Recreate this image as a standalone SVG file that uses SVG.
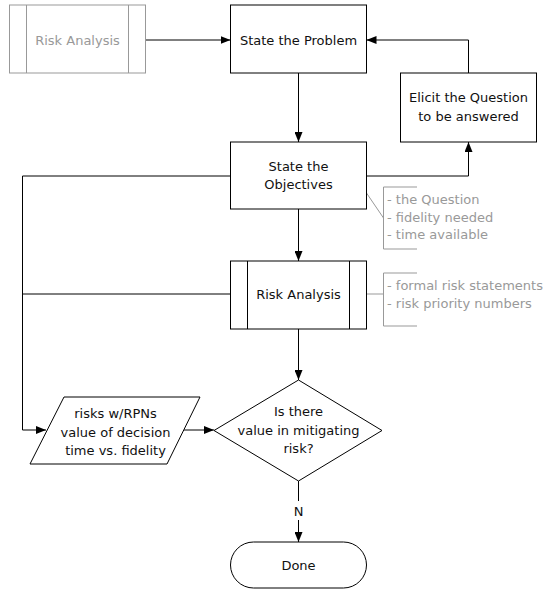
<svg xmlns="http://www.w3.org/2000/svg" width="550" height="592" viewBox="0 0 550 592">
  <style>
    .box { fill: #fff; stroke: #000; stroke-width: 1; }
    .ghost { fill: #fff; stroke: #999; stroke-width: 1; }
    .lbl { font-family: "DejaVu Sans", Verdana, sans-serif; font-size: 13px; fill: #111; text-anchor: middle; }
    .glbl { font-family: "DejaVu Sans", Verdana, sans-serif; font-size: 13px; fill: #999; text-anchor: middle; }
    .note { font-family: "DejaVu Sans", Verdana, sans-serif; font-size: 13px; fill: #999; }
    .wire { fill: none; stroke: #000; stroke-width: 1; }
    .gwire { fill: none; stroke: #999; stroke-width: 1; }
  </style>
  <defs>
    <marker id="arrow" markerUnits="userSpaceOnUse" markerWidth="10" markerHeight="8" refX="10" refY="4" orient="auto">
      <path d="M0,0 L10,4 L0,8 z" fill="#000"/>
    </marker>
  </defs>

  <rect width="550" height="592" fill="#fff"/>

  <!-- connectors -->
  <g id="connectors">
    <path class="wire" d="M145.5,40 H230.5" marker-end="url(#arrow)"/>
    <path class="wire" d="M298.5,73 V142" marker-end="url(#arrow)"/>
    <path class="wire" d="M366.5,176 H468.5 V142" marker-end="url(#arrow)"/>
    <path class="wire" d="M468.5,73 V40 H366.5" marker-end="url(#arrow)"/>
    <path class="wire" d="M298.5,209 V261" marker-end="url(#arrow)"/>
    <path class="wire" d="M230.5,176 H22.5 V430 H46" marker-end="url(#arrow)"/>
    <path class="wire" d="M230.5,294 H22.5"/>
    <path class="wire" d="M298.5,329 V380" marker-end="url(#arrow)"/>
    <path class="wire" d="M184,430 H214" marker-end="url(#arrow)"/>
    <path class="wire" d="M298.5,481 V501"/>
    <path class="wire" d="M298.5,520 V542" marker-end="url(#arrow)"/>
    <text class="lbl" x="298.5" y="515.5">N</text>
    <!-- annotation leaders -->
    <path class="gwire" d="M366.5,193 L383.5,218"/>
    <path class="gwire" d="M366.5,294 H383.5"/>
  </g>

  <!-- predefined process shown as an entry point -->
  <g id="risk-analysis-entry">
    <rect class="ghost" x="9.5" y="5" width="136" height="68"/>
    <path class="gwire" d="M26.5,5 V73 M128.5,5 V73"/>
    <text class="glbl" x="77.5" y="45">Risk Analysis</text>
  </g>

  <g id="state-problem">
    <rect class="box" x="230.5" y="5" width="136" height="68"/>
    <text class="lbl" x="298.5" y="45">State the Problem</text>
  </g>

  <g id="elicit-question">
    <rect class="box" x="400.5" y="73" width="136" height="69"/>
    <text class="lbl" x="468.5" y="102">Elicit the Question</text>
    <text class="lbl" x="468.5" y="120.5">to be answered</text>
  </g>

  <g id="state-objectives">
    <rect class="box" x="230.5" y="142" width="136" height="67"/>
    <text class="lbl" x="298.5" y="170.5">State the</text>
    <text class="lbl" x="298.5" y="189">Objectives</text>
  </g>

  <g id="objectives-note">
    <path class="gwire" d="M417,187 H383.5 V249 H417"/>
    <text class="note" x="387" y="204">- the Question</text>
    <text class="note" x="387" y="221.5">- fidelity needed</text>
    <text class="note" x="387" y="239">- time available</text>
  </g>

  <g id="risk-analysis">
    <rect class="box" x="230.5" y="261" width="136" height="68"/>
    <path class="wire" d="M247.5,261 V329 M349.5,261 V329"/>
    <text class="lbl" x="298.5" y="299">Risk Analysis</text>
  </g>

  <g id="risk-analysis-note">
    <path class="gwire" d="M417,273 H383.5 V326 H417"/>
    <text class="note" x="387" y="290">- formal risk statements</text>
    <text class="note" x="387" y="308">- risk priority numbers</text>
  </g>

  <g id="risk-data">
    <path class="box" d="M64,397 H200 L167,464 H30 Z"/>
    <text class="lbl" x="115.5" y="418">risks w/RPNs</text>
    <text class="lbl" x="115.5" y="436.5">value of decision</text>
    <text class="lbl" x="115.5" y="455">time vs. fidelity</text>
  </g>

  <g id="mitigation-decision">
    <path class="box" d="M298.5,380 L382,430.5 L298.5,481 L214,430.5 Z"/>
    <text class="lbl" x="298.5" y="416">Is there</text>
    <text class="lbl" x="298.5" y="434.5">value in mitigating</text>
    <text class="lbl" x="298.5" y="452.5">risk?</text>
  </g>

  <g id="done">
    <rect class="box" x="230.5" y="542" width="136" height="46" rx="23" ry="23"/>
    <text class="lbl" x="298.5" y="569.5">Done</text>
  </g>
</svg>
